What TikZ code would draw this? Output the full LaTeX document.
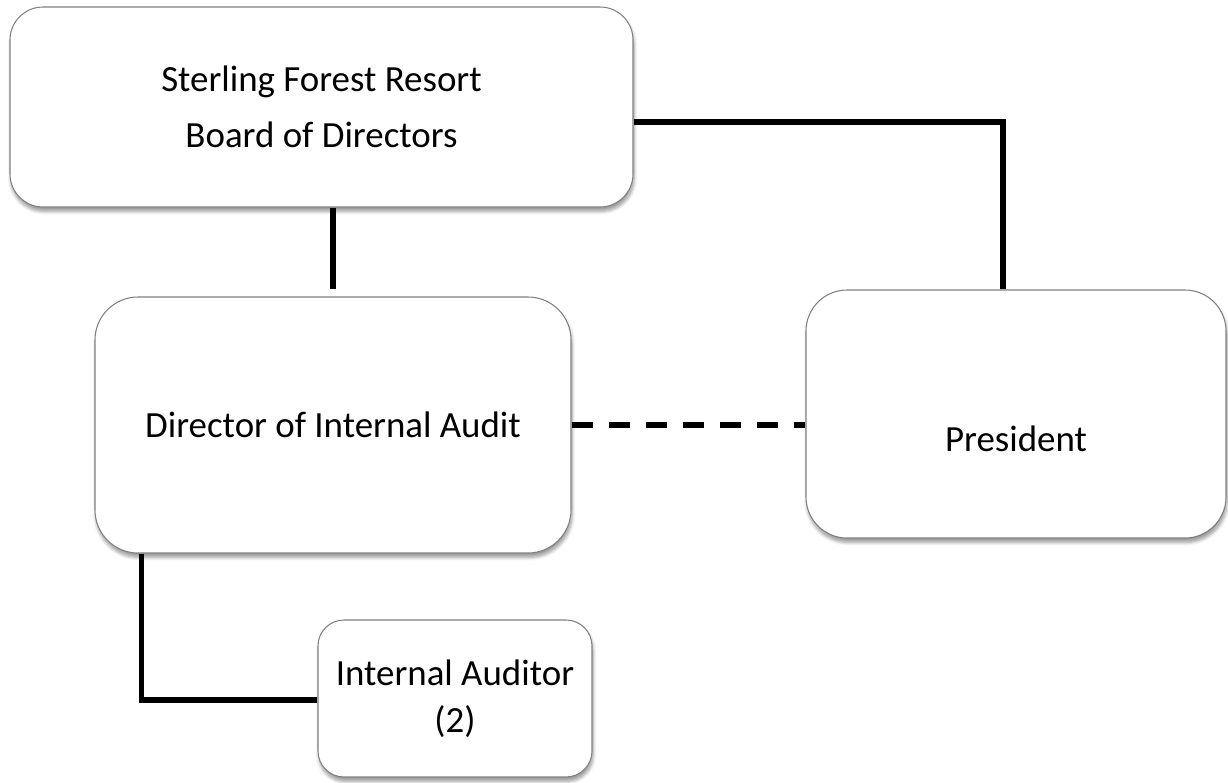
\documentclass[tikz,border=0pt]{standalone}
\usepackage{fontspec}
\setmainfont{Carlito}
\usetikzlibrary{positioning, shadows.blur}
\tikzset{
	box/.style={draw=black!50, line width=0.6pt, fill=white, inner sep=0pt,
		align=center, font=\fontsize{21}{32}\selectfont,
		blur shadow={shadow xshift=0.6pt, shadow yshift=-2.5pt, shadow blur steps=6, shadow opacity=40}}, % Cajas de la tabla
	link/.style={line width=3.1pt}, % Lineas de mando
	advise/.style={link, dash pattern=on 0.42cm off 0.32cm} % Linea de asesoria
}

\begin{document}
\begin{tikzpicture}
			\useasboundingbox (0,0) rectangle (24.56,-15.64);
			\node[box, rounded corners=0.66cm, minimum width=12.46cm, minimum height=4cm] (board) at (6.43,-2.14) {Sterling Forest Resort\\Board of Directors};
			\node[box, rounded corners=0.86cm, minimum width=9.52cm, minimum height=5.12cm] (dir) at (6.66,-8.5) {Director of Internal Audit};
			\node[box, rounded corners=0.82cm, minimum width=8.4cm, minimum height=4.96cm] (pres) at (20.32,-8.28) {\raisebox{-0.74cm}[0pt][0pt]{President}};
			\node[box, rounded corners=0.52cm, minimum width=5.48cm, minimum height=3.14cm, font=\fontsize{21}{26.5}\selectfont] (aud) at (9.1,-13.97) {Internal Auditor\\(2)};
			\draw[link, shorten >=4.5pt] (board.south -| dir.north) -- (dir.north);
			\draw[link] ([yshift=-0.3cm]board.east) -| ([xshift=-0.26cm]pres.north);
			\draw[advise] (dir.east) -- (dir.east -| pres.west);
			\draw[link] ([xshift=0.94cm]dir.south west) |- ([yshift=-0.03cm]aud.west);
			\end{tikzpicture}
\end{document}
